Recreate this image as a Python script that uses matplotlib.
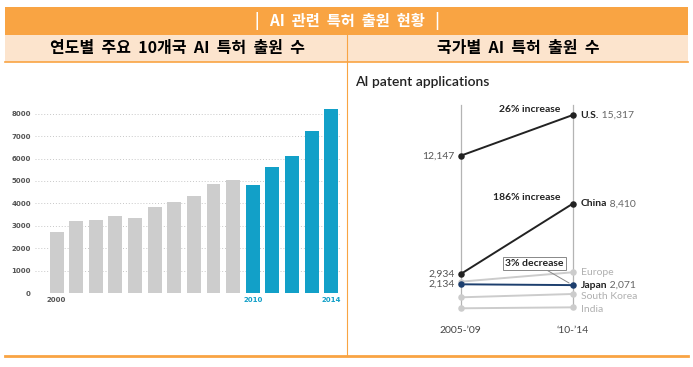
import matplotlib
matplotlib.use("Agg")
import matplotlib.pyplot as plt
from matplotlib.patches import Rectangle

W, H = 693, 367

# left chart: yearly AI patent applications, top-10 countries
years = list(range(2000, 2015))
apps = [2700, 3200, 3250, 3430, 3340, 3820, 4060, 4340, 4850, 5050,
        4800, 5620, 6130, 7240, 8220]
year_ticks = [2000, 2010, 2014]

# right chart: slope graph by country
countries = ['U.S.', 'China', 'Europe', 'Japan', 'South Korea', 'India']
early = [12147, 2934, 2340, 2134, 1120, 265]
late = [15317, 8410, 3070, 2071, 1380, 340]
periods = ['2005-\u201909', '\u201810-\u201914']

ORANGE = '#f9a443'
BEIGE = '#fce4cd'
GREY_BAR = '#cdcdcd'
BLUE_BAR = '#12a0c8'
KFONT = ['Noto Sans CJK KR', 'DejaVu Sans']
EFONT = ['Lato', 'DejaVu Sans']


def fig_box(x0, y0, x1, y1):
    return [x0 / W, 1 - y1 / H, (x1 - x0) / W, (y1 - y0) / H]


def wide(s):
    # the original Korean font has much wider word gaps
    return s.replace(' ', '  ')


fig = plt.figure(figsize=(W / 100, H / 100), dpi=100)

# background frame, banners and dividers
bg = fig.add_axes([0, 0, 1, 1])
bg.set_xlim(0, W)
bg.set_ylim(H, 0)
bg.axis('off')
bg.add_patch(Rectangle((5, 7), 683, 28, color=ORANGE, lw=0))
bg.add_patch(Rectangle((5, 35), 683, 27, color=BEIGE, lw=0))
bg.plot([5, 688], [62, 62], color=ORANGE, lw=1.2)
bg.plot([5, 688], [356, 356], color=ORANGE, lw=2)
bg.plot([347, 347], [35, 356], color=ORANGE, lw=0.8)
bg.text(347, 21, '|   AI  관련  특허  출원  현황   |', color='white', fontsize=11,
        fontweight='bold', ha='center', va='center', family=KFONT)
bg.text(177, 48.5, wide('연도별 주요 10개국 AI 특허 출원 수'), fontsize=11.5,
        fontweight='bold', ha='center', va='center', family=KFONT)
bg.text(518, 48.5, wide('국가별 AI 특허 출원 수'), fontsize=11.5,
        fontweight='bold', ha='center', va='center', family=KFONT)

# bar chart
ax1 = fig.add_axes(fig_box(35, 107, 340, 293))
pos = list(range(len(years)))
colors = [BLUE_BAR if y >= 2010 else GREY_BAR for y in years]
ax1.bar(pos, apps, width=0.71, color=colors, zorder=2)
ax1.set_xlim(-1.1, 14.45)
ax1.set_ylim(0, 8300)
ax1.set_yticks(range(0, 8001, 1000))
ax1.grid(axis='y', linestyle=(0, (1, 2)), color='#c8c8c8', lw=0.7, zorder=0)
for s in ax1.spines.values():
    s.set_visible(False)
ax1.tick_params(length=0, labelsize=5, pad=3, labelcolor='#555555')
for lab in ax1.get_yticklabels():
    lab.set_fontweight('bold')
ax1.set_xticks([years.index(y) for y in year_ticks])
ax1.set_xticklabels([str(y) for y in year_ticks], fontweight='bold')
for lab, y in zip(ax1.get_xticklabels(), year_ticks):
    lab.set_color(BLUE_BAR if y >= 2010 else '#555555')

# slope graph
bg.text(355, 82, 'AI patent applications', fontsize=10, color='#222222',
        fontweight='semibold', ha='left', va='center', family=EFONT)
ax2 = fig.add_axes(fig_box(350, 100, 690, 340))
ax2.set_xlim(-0.988, 2.047)
ax2.set_ylim(-2204, 16488)
ax2.axis('off')
for x in (0, 1):
    ax2.plot([x, x], [min(early + late), 16100], color='#b4b4b4', lw=0.9, zorder=1)

styles = {'U.S.': '#222222', 'China': '#222222', 'Japan': '#1d3f6e'}
order = ['Europe', 'South Korea', 'India', 'Japan', 'China', 'U.S.']
for name in order:
    i = countries.index(name)
    c = styles.get(name, '#cccccc')
    ax2.plot([0, 1], [early[i], late[i]], color=c, lw=1.4, zorder=2)
    ax2.scatter([0, 1], [early[i], late[i]], s=22, color=c, zorder=3, lw=0)

# right-hand labels
label_dy = {'Europe': 0, 'South Korea': -3, 'India': -2, 'Japan': 0}
for name in countries:
    i = countries.index(name)
    dy = label_dy.get(name, 0)
    if name in styles:
        t = ax2.annotate(name, (1, late[i]), xytext=(8, dy), textcoords='offset pixels',
                         fontsize=7.5, fontweight='bold', color='#222222',
                         va='center', ha='left', family=EFONT)
        ax2.annotate(' ' + f'{late[i]:,}', xy=(1, 0.5), xycoords=t, va='center',
                     ha='left', fontsize=7.5, color='#666666', family=EFONT)
    else:
        ax2.annotate(name, (1, late[i]), xytext=(8, dy), textcoords='offset pixels',
                     fontsize=7.5, color='#b0b0b0', va='center', ha='left', family=EFONT)

# left-hand values
for name in ['U.S.', 'China', 'Japan']:
    i = countries.index(name)
    ax2.annotate(f'{early[i]:,}', (0, early[i]), xytext=(-6, 0), textcoords='offset pixels',
                 fontsize=7.5, color='#555555', va='center', ha='right', family=EFONT)

# change annotations
for name, txt in [('U.S.', '26% increase'), ('China', '186% increase')]:
    i = countries.index(name)
    ax2.annotate(txt, (1, late[i]), xytext=(-12, 6), textcoords='offset pixels',
                 fontsize=7.5, fontweight='bold', color='#222222',
                 ha='right', va='center', family=EFONT)
j = countries.index('Japan')
ax2.annotate('3% decrease', (1, late[j]), xytext=(-38, 22), textcoords='offset pixels',
             fontsize=7.5, fontweight='bold', color='#222222', ha='center', va='center',
             family=EFONT,
             bbox=dict(boxstyle='square,pad=0.2', fc='white', ec='#888888', lw=0.7),
             arrowprops=dict(arrowstyle='-', color='#888888', lw=0.7,
                             shrinkA=0, shrinkB=3))

for x, p in zip((0, 1), periods):
    ax2.text(x, -1450, p, fontsize=7.5, color='#444444', ha='center', va='center',
             family=EFONT)

fig.savefig('out.png', dpi=100)
